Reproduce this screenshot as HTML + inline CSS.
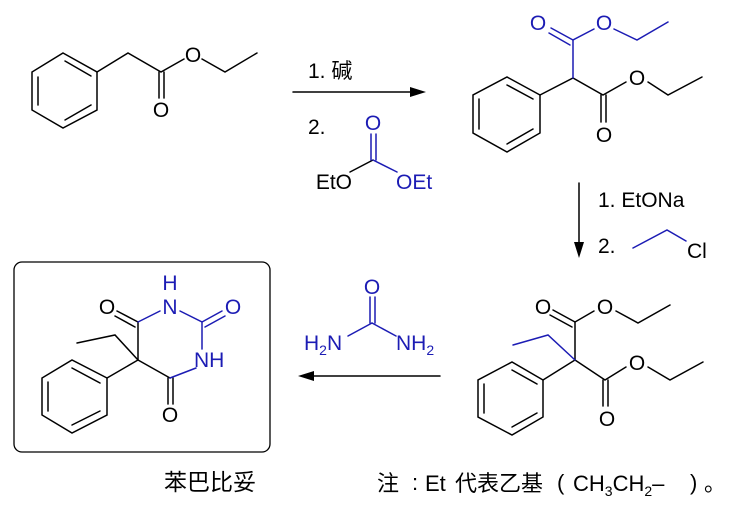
<!DOCTYPE html>
<html><head><meta charset="utf-8"><style>
html,body{margin:0;padding:0;background:#fff;}
svg{display:block;}
text{font-family:"Liberation Sans","Noto Sans CJK SC",sans-serif;font-size:21px;}
.b{fill:#1c1cb4;}
.m{text-anchor:middle;}
</style></head><body>
<svg width="744" height="512" viewBox="0 0 744 512" xmlns="http://www.w3.org/2000/svg">
<g stroke="#000" stroke-width="1.5" fill="none" stroke-linecap="round">
<polygon points="63,53 97,72 97,110 63,128 32,110 32,72"/>
<line x1="65" y1="61" x2="91" y2="76"/><line x1="38" y1="77" x2="38" y2="105"/><line x1="65" y1="120" x2="91" y2="105"/>
<polyline points="97,72 128,53 161,72 184,59"/>
<line x1="159" y1="72" x2="159" y2="98"/><line x1="164" y1="72" x2="164" y2="98"/>
<polyline points="202,59 225,72 257,53"/>
<line x1="293" y1="92" x2="412" y2="92"/>
<line x1="350" y1="172" x2="373" y2="160"/>
<polygon points="540,95 507,77 473,95 473,133 507,152 540,133"/>
<line x1="507" y1="85" x2="533" y2="99"/><line x1="479" y1="99" x2="479" y2="129"/><line x1="507" y1="144" x2="533" y2="129"/>
<polyline points="540,95 573,78 603,95 626,82"/>
<line x1="601" y1="95" x2="601" y2="122"/><line x1="606" y1="95" x2="606" y2="122"/>
<polyline points="648,82 668,95 702,77"/>
<line x1="579" y1="183" x2="579" y2="245"/>
<polygon points="543,380 512,362 478,380 478,417 512,435 543,417"/>
<line x1="512" y1="370" x2="537" y2="384"/><line x1="484" y1="384" x2="484" y2="413"/><line x1="512" y1="427" x2="537" y2="413"/>
<polyline points="543,380 575,360 575,322 594,311"/>
<line x1="575" y1="322" x2="553" y2="310"/><line x1="572" y1="327" x2="550" y2="315"/>
<polyline points="616,311 638,323 670,305"/>
<polyline points="575,360 605,380 626,367"/>
<line x1="603" y1="380" x2="603" y2="406"/><line x1="608" y1="380" x2="608" y2="406"/>
<polyline points="648,367 670,380 703,362"/>
<line x1="312" y1="376" x2="440" y2="376"/>
<rect x="14" y="262" width="256" height="190" rx="8" ry="8" stroke-width="1.3"/>
<polygon points="107,378 72,360 42,378 42,415 72,433 107,415"/>
<line x1="72" y1="368" x2="100" y2="383"/><line x1="48" y1="382" x2="48" y2="411"/><line x1="72" y1="425" x2="100" y2="411"/>
<polyline points="107,378 138,360 138,322"/>
<polyline points="138,360 115,335 77,343"/>
<line x1="138" y1="322" x2="117" y2="311"/><line x1="135" y1="327" x2="115" y2="316"/>
<line x1="138" y1="360" x2="170" y2="378"/>
<line x1="168" y1="378" x2="168" y2="404"/><line x1="173" y1="378" x2="173" y2="404"/>
</g>
<g stroke="#1c1cb4" stroke-width="1.5" fill="none" stroke-linecap="round">
<line x1="373" y1="160" x2="397" y2="172"/>
<line x1="371" y1="160" x2="371" y2="134"/><line x1="376" y1="160" x2="376" y2="134"/>
<polyline points="573,78 573,40 594,29"/>
<line x1="573" y1="40" x2="551" y2="28"/><line x1="570" y1="45" x2="549" y2="33"/>
<polyline points="614,29 637,40 668,22"/>
<polyline points="633,248 667,230 686,241"/>
<polyline points="575,360 548,335 513,345"/>
<line x1="372" y1="323" x2="348" y2="336"/><line x1="372" y1="323" x2="396" y2="336"/>
<line x1="370" y1="323" x2="370" y2="297"/><line x1="375" y1="323" x2="375" y2="297"/>
<polyline points="138,322 160,311"/>
<polyline points="180,311 202,322 202,349"/>
<line x1="202" y1="322" x2="222" y2="311"/><line x1="205" y1="327" x2="225" y2="316"/>
<line x1="196" y1="368" x2="170" y2="378"/>
</g>
<g fill="#000" stroke="none">
<polygon points="426,92 410,87 410,97"/>
<polygon points="579,258 574,242 584,242"/>
<polygon points="298,376 314,371 314,381"/>
</g>
<text class="m" x="161" y="117">O</text>
<text class="m" x="193" y="62">O</text>
<text x="308" y="78">1. 碱</text>
<text x="308" y="134">2.</text>
<text class="b m" x="373" y="130">O</text>
<text x="352" y="189" text-anchor="end">EtO</text>
<text class="b" x="396" y="189">OEt</text>
<text class="b m" x="538" y="30">O</text>
<text class="b m" x="604" y="30">O</text>
<text class="m" x="604" y="142">O</text>
<text class="m" x="637" y="85">O</text>
<text x="598" y="207">1. EtONa</text>
<text x="598" y="253">2.</text>
<text x="687" y="258">Cl</text>
<text class="m" x="543" y="314">O</text>
<text class="m" x="605" y="314">O</text>
<text class="m" x="607" y="426">O</text>
<text class="m" x="637" y="370">O</text>
<text class="b m" x="372" y="294">O</text>
<text class="b" x="304" y="350">H<tspan font-size="14" dy="5">2</tspan><tspan dy="-5">N</tspan></text>
<text class="b" x="396" y="350">NH<tspan font-size="14" dy="5">2</tspan></text>
<text class="m" x="107" y="314">O</text>
<text class="b m" x="170" y="290">H</text>
<text class="b m" x="170" y="314">N</text>
<text class="b m" x="233" y="314">O</text>
<text class="b" x="194" y="367">NH</text>
<text class="m" x="170" y="422">O</text>
<text x="164" y="490" style="font-size:23px">苯巴比妥</text>
<g style="font-size:22px">
<text x="377" y="491" style="font-size:22px">注</text>
<text x="412" y="490" style="font-size:22px">:</text>
<text x="425" y="491" style="font-size:22px">Et</text>
<text x="455" y="491" style="font-size:22px">代表乙基</text>
<text x="557" y="490" style="font-size:22px">(</text>
<text x="573" y="491" style="font-size:22px">CH<tspan font-size="14" dy="5">3</tspan><tspan dy="-5">CH</tspan><tspan font-size="14" dy="5">2</tspan><tspan dy="-5">–</tspan></text>
<text x="690" y="490" style="font-size:22px">)</text>
<text x="704" y="491" style="font-size:22px">。</text>
</g>
</svg>
</body></html>
